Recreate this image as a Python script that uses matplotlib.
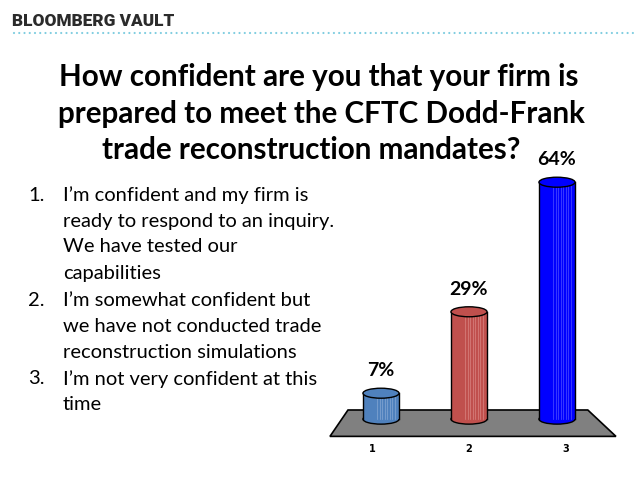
import numpy as np
import matplotlib
matplotlib.use("Agg")
import matplotlib.pyplot as plt
from matplotlib.patches import Ellipse, Rectangle, Polygon
from matplotlib import font_manager

# chart data
categories = [1, 2, 3]
values = [7, 29, 64]
value_labels = ["7%", "29%", "64%"]
tick_labels = ["1", "2", "3"]
bar_colors = ["#4f81bd", "#c0504d", "#0000ff"]
stripe_colors = ["#9bb7dc", "#e39a98", "#6f6fff"]

title_lines = ["How confident are you that your firm is",
               "prepared to meet the CFTC Dodd-Frank",
               "trade reconstruction mandates?"]
answers = [
    ["I\u2019m confident and my firm is", "ready to respond to an inquiry.",
     "We have tested our", "capabilities"],
    ["I\u2019m somewhat confident but", "we have not conducted trade",
     "reconstruction simulations"],
    ["I\u2019m not very confident at this", "time"],
]

W, H = 638, 479
fig = plt.figure(figsize=(W / 100, H / 100), dpi=100)
fig.patch.set_facecolor("white")

def fx(px):
    return px / W

def fy(py):
    return 1 - py / H

names = {f.name for f in font_manager.fontManager.ttflist}
head_font = "Liberation Sans Narrow" if "Liberation Sans Narrow" in names else "Roboto"

# header
fig.text(fx(12), fy(21), "BLOOMBERG VAULT", fontsize=12.4, fontweight="heavy",
         family=head_font, color="#2b2b2b", va="center", ha="left")
fig.add_artist(plt.Line2D([fx(14), fx(636)], [fy(33), fy(33)], color="#7fcde0",
                          linewidth=1.6, linestyle=(0, (0.01, 2.35)),
                          dash_capstyle="round"))

# title
for ln, cx, cy in zip(title_lines, [319, 321, 311], [77, 114, 150]):
    fig.text(fx(cx), fy(cy), ln, fontsize=21.3, fontweight="bold", family="Lato",
             color="black", ha="center", va="center")

# numbered list
line_px = 26
y = 195
for i, lines in enumerate(answers):
    fig.text(fx(28), fy(y), f"{i + 1}.", fontsize=14.5, family="Lato",
             ha="left", va="center")
    for ln in lines:
        fig.text(fx(63), fy(y), ln, fontsize=14.5, family="Lato",
                 ha="left", va="center")
        y += line_px
    y += 1

# chart axes (data: x category, y percent)
ax = fig.add_axes([fx(328.2), 21 / H, (618.6 - 328.2) / W, 298 / H])
ax.set_xlim(0.4, 3.7)
ax.set_ylim(-10.5, 70)
ax.axis("off")

# floor
floor = Polygon([[0.625, 2.47], [3.35, 2.47], [3.67, -4.66], [0.42, -4.66]],
                closed=True, facecolor="#808080", edgecolor="black", lw=1.2)
ax.add_patch(floor)

bw = 0.41
eh = 2.7
for c, v, col, scol, lab in zip(categories, values, bar_colors, stripe_colors, value_labels):
    ax.add_patch(Ellipse((c, 0), bw, eh, facecolor=col, edgecolor="black", lw=1.0, zorder=2))
    ax.add_patch(Rectangle((c - bw / 2, 0), bw, v, facecolor=col, edgecolor="none", zorder=3))
    for s in np.linspace(-0.1, 0.38, 8):
        ax.plot([c + s * bw, c + s * bw], [0, v], color=scol, lw=0.5, alpha=0.7, zorder=3.5)
    ax.plot([c - bw / 2, c - bw / 2], [0, v], color="black", lw=1.0, zorder=4)
    ax.plot([c + bw / 2, c + bw / 2], [0, v], color="black", lw=1.0, zorder=4)
    ax.add_patch(Ellipse((c, v), bw, eh, facecolor=col, edgecolor="black", lw=1.0, zorder=5))
    ax.annotate(lab, (c, v), xytext=(0, 16), textcoords="offset points",
                ha="center", va="center", fontsize=14, fontweight="bold",
                family="Lato", annotation_clip=False)

for c, t in zip(categories, tick_labels):
    ax.text(c + (c - 2) * 0.1, -8.0, t, ha="center", va="center",
            fontsize=7, fontweight="bold", family="DejaVu Sans")

fig.savefig("out.png", dpi=100)
